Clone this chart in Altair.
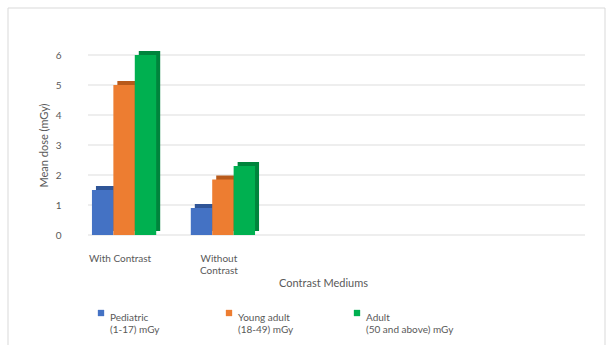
import altair as alt
import pandas as pd

categories = ["With Contrast", "Without\nContrast"]
groups = ["Pediatric\n(1-17) mGy", "Young adult\n(18-49) mGy", "Adult\n(50 and above) mGy"]
pediatric = [1.5, 0.9]
young_adult = [5.0, 1.85]
adult = [6.0, 2.3]
y_ticks = [0, 1, 2, 3, 4, 5, 6]

colors = ["#4472C4", "#ED7D31", "#00B050"]
dark = ["#2F5597", "#B85A1B", "#00843C"]

rows = []
for i, c in enumerate(categories):
    for g, vals in zip(groups, [pediatric, young_adult, adult]):
        rows.append({"category": c, "group": g, "value": vals[i]})
df = pd.DataFrame(rows)

FONT = "Lato"
GRAY = "#595959"

X_START, X_END = 0, 171
P_IN, P_OUT = 0.35, 0.04
BW = (X_END - X_START) / (2 - P_IN + 2 * P_OUT) * (1 - P_IN)
DEPTH = 4

xenc = alt.X("category:N", sort=categories,
             scale=alt.Scale(range=[X_START, X_END], paddingInner=P_IN, paddingOuter=P_OUT),
             axis=alt.Axis(title="Contrast Mediums", labelAngle=0, domain=False, ticks=False,
                           labelPadding=18, titlePadding=2, labelOffset=-4,
                           labelExpr="split(datum.label, '\\n')",
                           labelFont=FONT, labelFontSize=10, labelColor=GRAY,
                           titleFont=FONT, titleFontSize=11, titleColor=GRAY, titleFontWeight="normal",
                           titleX=235))
yscale = alt.Scale(domain=[0, 6])
yaxis = alt.Axis(title="Mean dose (mGy)", values=y_ticks, domain=False, ticks=False, grid=False,
                 labelPadding=27, titlePadding=6,
                 labelFont=FONT, labelFontSize=10, labelColor=GRAY,
                 titleFont=FONT, titleFontSize=11, titleColor=GRAY, titleFontWeight="normal")

grid = alt.Chart(pd.DataFrame({"v": y_ticks})).mark_rule(color="#DDDDDD", strokeWidth=1).encode(
    y=alt.Y("v:Q", scale=yscale, axis=yaxis),
    x=alt.value(0), x2=alt.value(497),
)

shadow = alt.Chart(df).mark_bar(yOffset=-DEPTH).encode(
    x=xenc, y=alt.Y("value:Q", scale=yscale, axis=yaxis),
    xOffset=alt.XOffset("group:N", sort=groups, scale=alt.Scale(range=[DEPTH, BW + DEPTH])),
    color=alt.Color("group:N", sort=groups, scale=alt.Scale(domain=groups, range=dark), legend=None),
)

front = alt.Chart(df).mark_bar().encode(
    x=xenc, y=alt.Y("value:Q", scale=yscale, axis=yaxis),
    xOffset=alt.XOffset("group:N", sort=groups, scale=alt.Scale(range=[0, BW])),
    fill=alt.Fill("group:N", sort=groups, scale=alt.Scale(domain=groups, range=colors),
                  legend=alt.Legend(title=None, orient="none", legendX=8, legendY=253,
                                    columns=3, gridAlign="all", columnPadding=26,
                                    symbolType="square", symbolSize=40,
                                    labelExpr="split(datum.label, '\\n')",
                                    labelFont=FONT, labelFontSize=10, labelColor=GRAY,
                                    labelLimit=200, labelBaseline="top")),
)

frame = alt.Chart(pd.DataFrame({"a": [0]})).mark_rect(fill=None, stroke="#D9D9D9", strokeWidth=1).encode(
    x=alt.value(-80), x2=alt.value(517), y=alt.value(-47), y2=alt.value(300)
)

chart = alt.layer(frame, grid, shadow, front).resolve_scale(color="independent", xOffset="independent").properties(
    width=497, height=180,
    padding={"left": 88, "top": 55, "right": 29, "bottom": 110},
    autosize=alt.AutoSizeParams(type="none"),
).configure_view(stroke=None)

chart.save("out.html", embed_options={"renderer": "svg", "actions": False})
